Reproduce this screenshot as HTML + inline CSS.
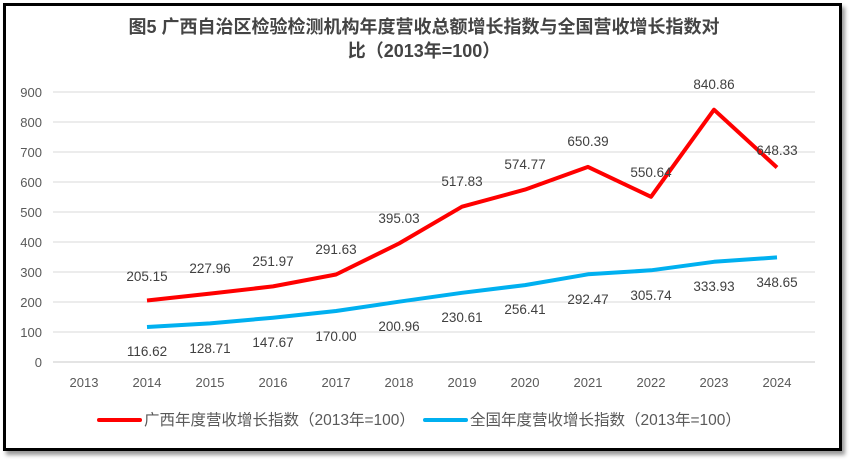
<!DOCTYPE html><html><head><meta charset="utf-8"><style>
body{margin:0;width:850px;height:460px;background:#fff;overflow:hidden}
.box{position:absolute;left:3px;top:3px;width:833px;height:442px;border:3px solid #000;box-shadow:3px 4px 4px #999;background:#fff}
svg{position:absolute;left:0;top:0}
text{font-family:"Liberation Sans","Noto Sans CJK SC",sans-serif}
</style></head><body><div class="box"></div>
<svg width="850" height="460">
<g font-size="18" font-weight="bold" fill="#444" text-anchor="middle">
<text x="424" y="33">图5  广西自治区检验检测机构年度营收总额增长指数与全国营收增长指数对</text>
<text x="424" y="57">比（2013年=100）</text></g>
<g stroke="#d9d9d9" stroke-width="1">
<line x1="53" x2="815" y1="92" y2="92"/><line x1="53" x2="815" y1="122" y2="122"/><line x1="53" x2="815" y1="152" y2="152"/><line x1="53" x2="815" y1="182" y2="182"/><line x1="53" x2="815" y1="212" y2="212"/><line x1="53" x2="815" y1="242" y2="242"/><line x1="53" x2="815" y1="272" y2="272"/><line x1="53" x2="815" y1="302" y2="302"/><line x1="53" x2="815" y1="332" y2="332"/><line x1="53" x2="815" y1="362" y2="362" stroke="#c8c8c8"/></g>
<g font-size="13" fill="#595959" text-anchor="end">
<text x="42" y="97">900</text><text x="42" y="127">800</text><text x="42" y="157">700</text><text x="42" y="187">600</text><text x="42" y="217">500</text><text x="42" y="247">400</text><text x="42" y="277">300</text><text x="42" y="307">200</text><text x="42" y="337">100</text><text x="42" y="367">0</text></g>
<g font-size="13" fill="#595959" text-anchor="middle">
<text x="84" y="387">2013</text><text x="147" y="387">2014</text><text x="210" y="387">2015</text><text x="273" y="387">2016</text><text x="336" y="387">2017</text><text x="399" y="387">2018</text><text x="462" y="387">2019</text><text x="525" y="387">2020</text><text x="588" y="387">2021</text><text x="651" y="387">2022</text><text x="714" y="387">2023</text><text x="777" y="387">2024</text></g>
<polyline fill="none" stroke="#f00" stroke-width="4" stroke-linejoin="round" points="147,300.5 210,293.6 273,286.4 336,274.5 399,243.5 462,206.7 525,189.6 588,166.9 651,196.8 714,109.7 777,167.5"/>
<polyline fill="none" stroke="#00b0f0" stroke-width="4" stroke-linejoin="round" points="147,327 210,323.4 273,317.7 336,311 399,301.7 462,292.8 525,285.1 588,274.3 651,270.3 714,261.8 777,257.4"/>
<g font-size="13.5" fill="#404040" text-anchor="middle">
<text x="147" y="281">205.15</text><text x="210" y="273">227.96</text><text x="273" y="266">251.97</text><text x="336" y="254">291.63</text><text x="399" y="223">395.03</text><text x="462" y="186">517.83</text><text x="525" y="169">574.77</text><text x="588" y="146">650.39</text><text x="651" y="177">550.64</text><text x="714" y="89">840.86</text><text x="777" y="155">648.33</text>
<text x="147" y="356">116.62</text><text x="210" y="353">128.71</text><text x="273" y="347">147.67</text><text x="336" y="341">170.00</text><text x="399" y="331">200.96</text><text x="462" y="322">230.61</text><text x="525" y="314">256.41</text><text x="588" y="304">292.47</text><text x="651" y="300">305.74</text><text x="714" y="291">333.93</text><text x="777" y="287">348.65</text></g>
<line x1="99" x2="140" y1="420" y2="420" stroke="#f00" stroke-width="4" stroke-linecap="round"/>
<line x1="425" x2="466" y1="420" y2="420" stroke="#00b0f0" stroke-width="4" stroke-linecap="round"/>
<g font-size="15.5" fill="#595959"><text x="144" y="425">广西年度营收增长指数（2013年=100）</text><text x="470" y="425">全国年度营收增长指数（2013年=100）</text></g>
</svg></body></html>
